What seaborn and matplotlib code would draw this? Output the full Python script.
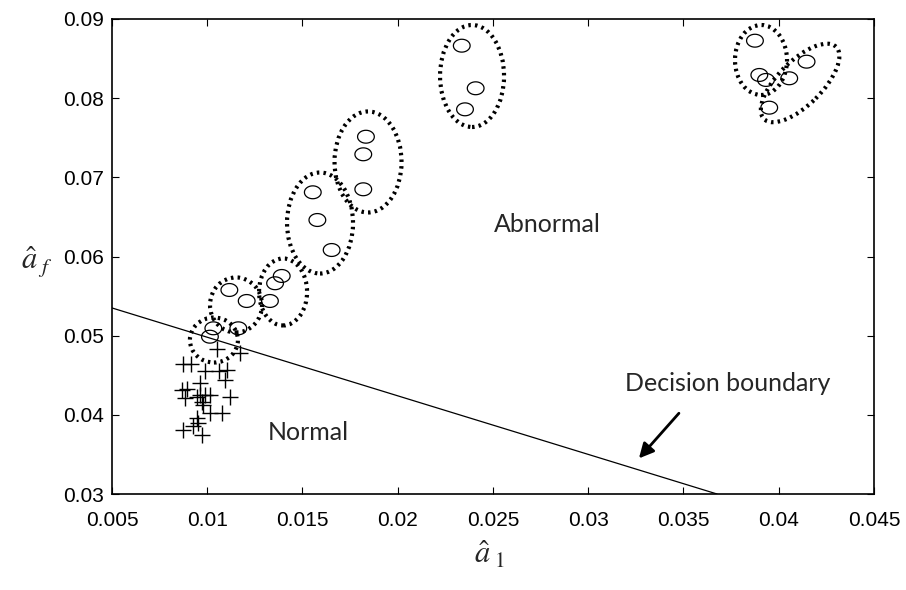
import numpy as np
import pandas as pd
import matplotlib
matplotlib.use("Agg")
import matplotlib.pyplot as plt
import seaborn as sns
from matplotlib.patches import Ellipse
from matplotlib.transforms import Affine2D, ScaledTranslation
from matplotlib.path import Path

# ---------------- data ----------------
normal_x = [0.01053, 0.01172, 0.00874, 0.00913, 0.00988, 0.01063, 0.01102, 0.01093,
            0.00962, 0.00892, 0.00866, 0.00962, 0.00988, 0.01014, 0.00883, 0.00945,
            0.01119, 0.00971, 0.00979, 0.01014, 0.01076, 0.00945, 0.00953, 0.00927,
            0.00874, 0.00971]
normal_y = [0.04828, 0.04777, 0.04639, 0.04639, 0.04558, 0.04558, 0.04567, 0.04440,
            0.04406, 0.04323, 0.04314, 0.04251, 0.04251, 0.04251, 0.04217, 0.04230,
            0.04222, 0.04166, 0.04124, 0.04020, 0.04027, 0.03956, 0.03900, 0.03859,
            0.03809, 0.03746]

abnormal_x = [0.01032, 0.01014, 0.01163, 0.01116, 0.01207, 0.01391, 0.01356, 0.01329,
              0.01554, 0.01578, 0.01653, 0.01833, 0.01819, 0.01819, 0.02336, 0.02409,
              0.02353, 0.03875, 0.03898, 0.03933, 0.04055, 0.04146, 0.03950]
abnormal_y = [0.05093, 0.04987, 0.05093, 0.05577, 0.05438, 0.05754, 0.05662, 0.05438,
              0.06811, 0.06461, 0.06082, 0.07513, 0.07291, 0.06849, 0.08663, 0.08125,
              0.07859, 0.08726, 0.08293, 0.08230, 0.08251, 0.08461, 0.07880]

boundary_x = [0.005, 0.03676]
boundary_y = [0.0535, 0.0300]

# cluster outlines: centre (data), width/height (pixels), angle (deg)
cluster_cx = [0.01035, 0.01151, 0.01398, 0.01592, 0.01844, 0.02390, 0.03907, 0.04112]
cluster_cy = [0.04945, 0.05388, 0.05552, 0.06423, 0.07194, 0.08280, 0.08482, 0.08192]
cluster_w = [48, 52, 48, 66, 67, 64, 52, 102]
cluster_h = [45, 55, 67, 101, 101, 102, 70, 44]
cluster_a = [0, 0, 0, 0, 0, 0, 0, 45]

x_ticks = [0.005, 0.01, 0.015, 0.02, 0.025, 0.03, 0.035, 0.04, 0.045]
x_ticklabels = ["0.005", "0.01", "0.015", "0.02", "0.025", "0.03", "0.035", "0.04", "0.045"]
y_ticks = [0.03, 0.04, 0.05, 0.06, 0.07, 0.08, 0.09]
y_ticklabels = ["0.03", "0.04", "0.05", "0.06", "0.07", "0.08", "0.09"]

# ---------------- style ----------------
sns.set_theme(style="white")
plt.rcParams["font.family"] = ["Liberation Sans", "DejaVu Sans"]
plt.rcParams["mathtext.fontset"] = "stix"

fig = plt.figure(figsize=(9.06, 5.90), dpi=100)
ax = fig.add_axes([112 / 906, 1 - 494 / 590, (874 - 112) / 906, (494 - 19) / 590])

# ellipse marker
t = np.linspace(0, 2 * np.pi, 60)
ell_verts = np.column_stack([0.65 * np.cos(t), 0.5 * np.sin(t)])
ell_marker = Path(ell_verts, closed=True)

sns.lineplot(x=boundary_x, y=boundary_y, ax=ax, color="black", linewidth=0.9,
             estimator=None, sort=False)

sns.scatterplot(x=normal_x, y=normal_y, ax=ax, marker="+", s=120,
                color="black", linewidth=1.0)
sns.scatterplot(x=abnormal_x, y=abnormal_y, ax=ax, marker=ell_marker, s=145,
                facecolors="none", edgecolors="black", linewidth=0.9)

for cx, cy, w, h, a in zip(cluster_cx, cluster_cy, cluster_w, cluster_h, cluster_a):
    tr = Affine2D() + ScaledTranslation(cx, cy, ax.transData)
    e = Ellipse((0, 0), w, h, angle=a, transform=tr, fill=False,
                edgecolor="black", linewidth=3.0, linestyle=(0, (0.6, 1.0)))
    ax.add_patch(e)

ax.annotate("", xy=(0.03266, 0.0345), xytext=(0.03476, 0.0402),
            arrowprops=dict(arrowstyle="-|>", color="black", lw=2.0,
                            mutation_scale=22, shrinkA=0, shrinkB=0))

ann_font = ["Lato", "DejaVu Sans"]
ax.text(0.02783, 0.0640, "Abnormal", fontsize=18, family=ann_font, ha="center", va="center")
ax.text(0.01529, 0.0378, "Normal", fontsize=18, family=ann_font, ha="center", va="center")
ax.text(0.03734, 0.0439, "Decision boundary", fontsize=18, family=ann_font, ha="center", va="center")

ax.set_xlim(0.005, 0.045)
ax.set_ylim(0.03, 0.09)
ax.set_xticks(x_ticks)
ax.set_xticklabels(x_ticklabels)
ax.set_yticks(y_ticks)
ax.set_yticklabels(y_ticklabels)
ax.tick_params(direction="in", length=5, width=0.8, labelsize=15, colors="black",
               top=True, right=True, bottom=True, left=True)
ax.tick_params(axis="x", pad=12)
ax.tick_params(axis="y", pad=6)
for sp in ax.spines.values():
    sp.set_visible(True)
    sp.set_color("black")
    sp.set_linewidth(1.2)

fig.text(490 / 906, 1 - 555 / 590, r"$\hat{a}_{\ 1}$", fontsize=22, ha="center", va="center")
fig.text(37 / 906, 1 - 262 / 590, r"$\hat{a}_{\ f}$", fontsize=22, ha="center", va="center")

fig.savefig("out.png", dpi=100, facecolor="white")
